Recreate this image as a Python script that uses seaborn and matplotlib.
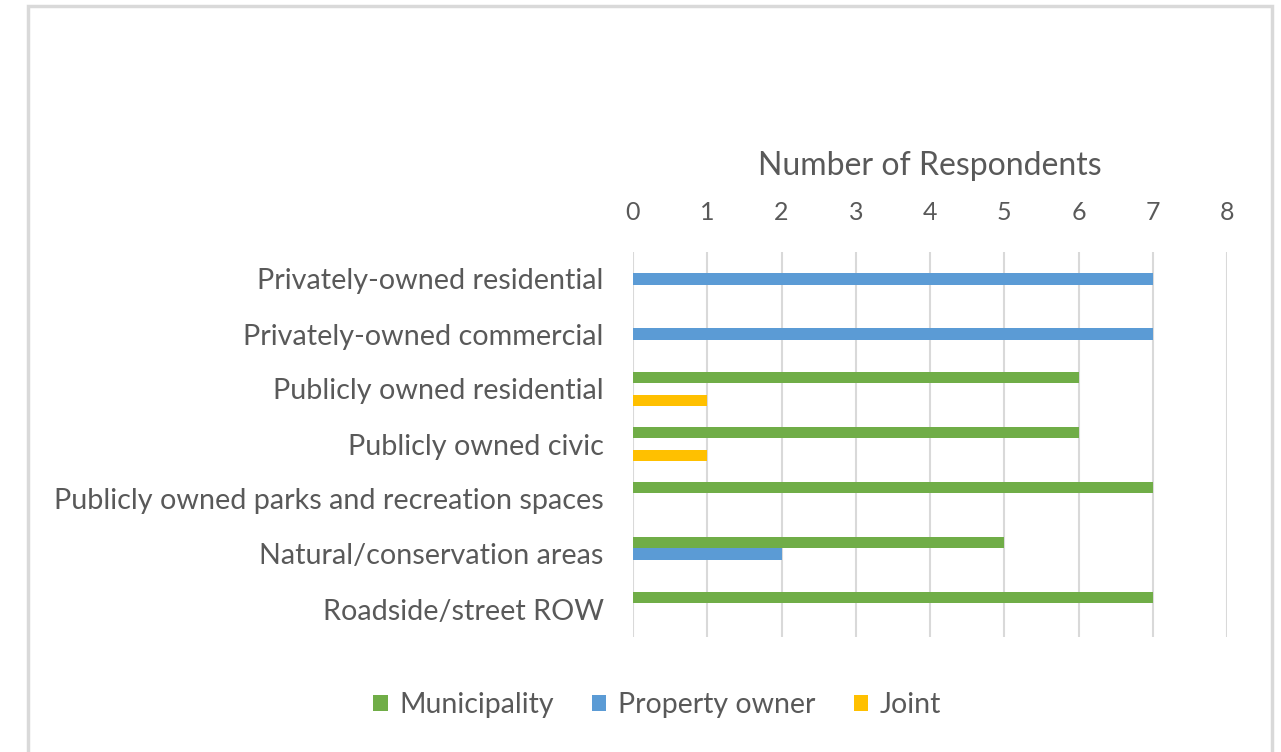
import matplotlib
matplotlib.use("Agg")
import matplotlib.pyplot as plt
from matplotlib.patches import Rectangle, Patch
import seaborn as sns
import pandas as pd

categories = [
    "Privately-owned residential",
    "Privately-owned commercial",
    "Publicly owned residential",
    "Publicly owned civic",
    "Publicly owned parks and recreation spaces",
    "Natural/conservation areas",
    "Roadside/street ROW",
]
series_names = ["Municipality", "Property owner", "Joint"]
municipality = [0, 0, 6, 6, 7, 5, 7]
property_owner = [7, 7, 0, 0, 0, 2, 0]
joint = [0, 0, 1, 1, 0, 0, 0]
x_ticks = [0, 1, 2, 3, 4, 5, 6, 7, 8]

colors = ["#70AD47", "#5B9BD5", "#FFC000"]
text_color = "#595959"
grid_color = "#D9D9D9"

rows = []
for name, vals in zip(series_names, [municipality, property_owner, joint]):
    for cat, v in zip(categories, vals):
        rows.append({"Category": cat, "Responsible": name, "Count": v})
df = pd.DataFrame(rows)

sns.set_style("white")
plt.rcParams["font.family"] = ["Lato", "DejaVu Sans"]

fig = plt.figure(figsize=(12.81, 7.52), dpi=100)
ax = fig.add_axes([633 / 1281, 1 - 636.5 / 752, (1227 - 633) / 1281, 385 / 752])

sns.barplot(
    data=df, y="Category", x="Count", hue="Responsible",
    order=categories, hue_order=series_names, palette=colors,
    orient="h", width=0.627, gap=0, linewidth=0, saturation=1,
    errorbar=None, legend=False, ax=ax,
)

ax.set_xlim(0, 8)
ax.set_xticks(x_ticks)
ax.xaxis.tick_top()
ax.xaxis.set_label_position("top")
ax.set_xlabel("Number of Respondents", fontsize=23, color=text_color, labelpad=19)
ax.set_ylabel("")
ax.tick_params(axis="x", length=0, labelsize=18, labelcolor=text_color, pad=19.5)
ax.tick_params(axis="y", length=0, labelsize=20.7, labelcolor=text_color, pad=21)
ax.grid(axis="x", color=grid_color, linewidth=1.5)
ax.set_axisbelow(True)
for s in ax.spines.values():
    s.set_visible(False)

handles = [Patch(facecolor=c, edgecolor="none") for c in colors]
fig.legend(
    handles, series_names, loc="center", bbox_to_anchor=(657 / 1281, 1 - 705 / 752),
    ncol=3, frameon=False, fontsize=20.5, labelcolor=text_color,
    handlelength=0.5, handleheight=0.5, handletextpad=0.4, columnspacing=1.35,
)

fig.patches.append(Rectangle(
    (28 / 1281, -0.05), (1272 - 28) / 1281, 1.05 - 6 / 752,
    transform=fig.transFigure, fill=False, edgecolor=grid_color, linewidth=2.5,
))

fig.savefig("out.png", dpi=100, facecolor="white")
